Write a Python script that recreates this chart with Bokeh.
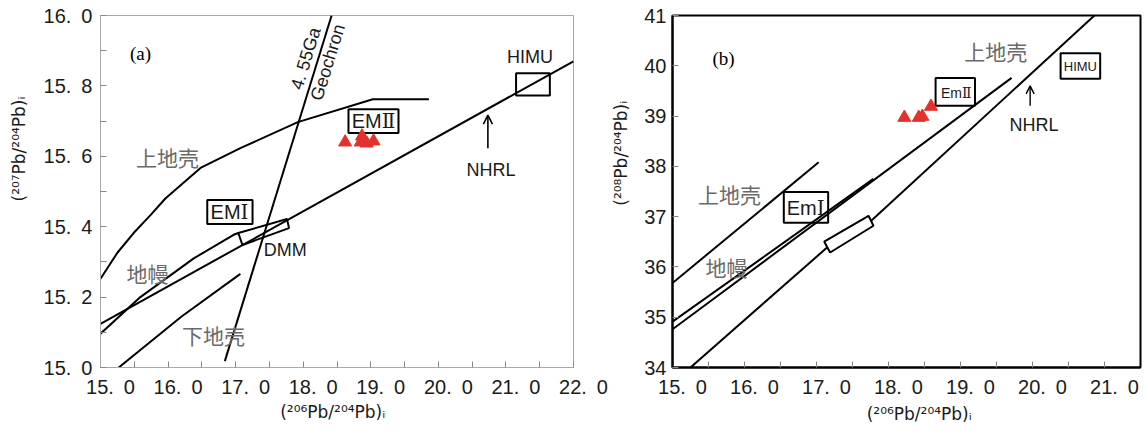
from bokeh.plotting import figure
from bokeh.layouts import row
from bokeh.models import FixedTicker, CustomJSTickFormatter, Arrow, OpenHead, Range1d
from bokeh.core.properties import value
from bokeh.embed import file_html
from bokeh.resources import INLINE

# ---------------- panel (a): 207Pb/204Pb vs 206Pb/204Pb ----------------
a_x_ticks = [15, 16, 17, 18, 19, 20, 21, 22]
a_x_minor = [15.5, 16.5, 17.5, 18.5, 19.5, 20.5, 21.5]
a_y_ticks = [15.0, 15.2, 15.4, 15.6, 15.8, 16.0]
a_y_minor = [15.1, 15.3, 15.5, 15.7, 15.9]

a_upper_crust_x = [15.0, 15.25, 15.49, 15.74, 15.96, 16.48, 17.07, 17.92, 19.03, 19.86]
a_upper_crust_y = [15.252, 15.326, 15.382, 15.433, 15.48, 15.567, 15.623, 15.697, 15.762, 15.762]
a_mantle_x = [15.0, 15.59, 16.38, 16.97, 17.04]
a_mantle_y = [15.096, 15.20, 15.31, 15.377, 15.382]
a_nhrl_x = [15.0, 22.0]
a_nhrl_y = [15.124, 15.87]
a_lower_crust_x = [15.27, 16.2, 17.07]
a_lower_crust_y = [15.0, 15.145, 15.266]
a_geochron_x = [16.84, 18.42]
a_geochron_y = [15.018, 16.0]
a_dmm_x = [17.04, 17.10, 17.79, 17.76]
a_dmm_y = [15.382, 15.348, 15.396, 15.422]
a_box_left = [16.58, 18.67, 21.15]      # EM I, EM II, HIMU
a_box_right = [17.25, 19.41, 21.65]
a_box_bottom = [15.408, 15.666, 15.773]
a_box_top = [15.476, 15.734, 15.836]
a_samples_x = [18.62, 18.87, 18.85, 18.94, 19.04]
a_samples_y = [15.640, 15.657, 15.640, 15.637, 15.643]

# ---------------- panel (b): 208Pb/204Pb vs 206Pb/204Pb ----------------
b_x_ticks = [15, 16, 17, 18, 19, 20, 21]
b_x_minor = [15.5, 16.5, 17.5, 18.5, 19.5, 20.5]
b_y_ticks = [34, 35, 36, 37, 38, 39, 40, 41]

b_upper_crust_x = [15.0, 17.03]
b_upper_crust_y = [35.68, 38.08]
b_mantle1_x = [15.0, 17.79]
b_mantle1_y = [34.91, 37.75]
b_mantle2_x = [15.0, 19.71]
b_mantle2_y = [34.76, 39.76]
b_nhrl_low_x = [15.25, 17.15]
b_nhrl_low_y = [34.0, 36.39]
b_nhrl_up_x = [17.76, 20.86]
b_nhrl_up_y = [36.92, 41.0]
b_dmm_x = [17.107, 17.189, 17.791, 17.723]
b_dmm_y = [36.504, 36.287, 36.819, 37.017]
b_box_left = [16.546, 18.654, 20.39]    # Em I, Em II, HIMU
b_box_right = [17.162, 19.201, 20.94]
b_box_bottom = [36.88, 39.205, 39.74]
b_box_top = [37.49, 39.758, 40.25]
b_samples_x = [18.22, 18.42, 18.47, 18.59]
b_samples_y = [38.97, 38.97, 38.99, 39.19]

SANS_NAME = "Liberation Sans"
LABEL_FONT = "DejaVu Sans"
SANS = value(SANS_NAME)
SERIF = value("Liberation Serif")
CJK = value("Noto Sans CJK SC")
MIXED = value("Liberation Sans, DejaVu Serif")
RED = "#e3312d"
XLABEL = "(\u00b2\u2070\u2076Pb/\u00b2\u2070\u2074Pb)\u1d62"
YLABEL_A = "(\u00b2\u2070\u2077Pb/\u00b2\u2070\u2074Pb)\u1d62"
YLABEL_B = "(\u00b2\u2070\u2078Pb/\u00b2\u2070\u2074Pb)\u1d62"

x_fmt = CustomJSTickFormatter(code="return '\u2003' + tick.toFixed(1).replace('.', '.\u2002');")
y_fmt_a = CustomJSTickFormatter(code="return tick.toFixed(1).replace('.', '.\u2002');")


def style(p, axis_color, axis_width):
    p.xgrid.visible = False
    p.ygrid.visible = False
    p.background_fill_color = "white"
    p.border_fill_color = "white"
    p.outline_line_color = axis_color
    p.outline_line_width = axis_width
    for ax in (p.xaxis[0], p.yaxis[0]):
        ax.axis_line_color = axis_color
        ax.axis_line_width = axis_width
        ax.major_tick_in = 6
        ax.major_tick_out = 0
        ax.minor_tick_in = 6
        ax.minor_tick_out = 0
        ax.major_tick_line_color = "#888888"
        ax.minor_tick_line_color = "#888888"
        ax.major_label_text_font = SANS_NAME
        ax.major_label_text_font_size = "20px"
        ax.major_label_text_color = "#1a1a1a"
        ax.axis_label_text_font = LABEL_FONT
        ax.axis_label_text_font_size = "17px"
        ax.axis_label_text_font_style = "normal"
        ax.axis_label_text_color = "#1a1a1a"


# ---------------- figure (a) ----------------
p1 = figure(width=608, height=431, x_range=Range1d(15, 22), y_range=Range1d(15, 16),
            output_backend="svg", toolbar_location=None,
            min_border_left=100, min_border_right=35, min_border_top=15, min_border_bottom=63)
style(p1, "#a8a8a8", 1)
p1.xaxis.ticker = FixedTicker(ticks=a_x_ticks, minor_ticks=a_x_minor)
p1.yaxis.ticker = FixedTicker(ticks=a_y_ticks, minor_ticks=a_y_minor)
p1.xaxis.formatter = x_fmt
p1.yaxis.formatter = y_fmt_a
p1.xaxis.axis_label = XLABEL + "\u2002"
p1.yaxis.axis_label = "\u2003" * 5 + YLABEL_A
p1.xaxis.major_label_standoff = 8
p1.yaxis.major_label_standoff = 8
p1.xaxis.axis_label_standoff = 1
p1.yaxis.axis_label_standoff = 12

lw = 2
p1.line(a_upper_crust_x, a_upper_crust_y, line_color="black", line_width=lw)
p1.line(a_mantle_x, a_mantle_y, line_color="black", line_width=lw)
p1.line(a_nhrl_x, a_nhrl_y, line_color="black", line_width=lw)
p1.line(a_lower_crust_x, a_lower_crust_y, line_color="black", line_width=lw)
p1.line(a_geochron_x, a_geochron_y, line_color="black", line_width=lw)
p1.patch(a_dmm_x, a_dmm_y, fill_color=None, line_color="black", line_width=lw)
p1.quad(left=a_box_left, right=a_box_right, bottom=a_box_bottom, top=a_box_top,
        fill_color=None, line_color="black", line_width=lw)
p1.scatter(a_samples_x, a_samples_y, marker="triangle", size=13, fill_color=RED, line_color=RED)

p1.add_layout(Arrow(end=OpenHead(size=9, line_width=1.6, line_color="black"),
                    x_start=20.733, y_start=15.623, x_end=20.733, y_end=15.717,
                    line_width=1.6, line_color="black"))

p1.text(x=[15.593], y=[15.892], text=["(a)"], text_font=SERIF, text_font_size="19px",
        text_align="center", text_baseline="middle", text_color="black")
p1.text(x=[15.993, 15.696, 16.674], y=[15.598, 15.269, 15.091], text=["上地壳", "地幔", "下地壳"],
        text_font=CJK, text_font_size="21px", text_align="center", text_baseline="middle",
        text_color="#6a6a6a")
p1.text(x=[17.415], y=[15.334], text=["DMM"], text_font=SANS, text_font_size="18px",
        text_align="left", text_baseline="middle", text_color="#1a1a1a")
p1.text(x=[21.356, 20.778], y=[15.881, 15.561], text=["HIMU", "NHRL"], text_font=SANS,
        text_font_size="18px", text_align="center", text_baseline="middle", text_color="#1a1a1a")
p1.text(x=[16.91, 19.04], y=[15.443, 15.700], text=["EM\u2160", "EM\u2161"],
        text_font=MIXED, text_font_size="20px",
        text_align="center", text_baseline="middle", text_color="#1a1a1a")
p1.text(x=[18.037, 18.363], y=[15.878, 15.867], text=["4. 55Ga", "Geochron"], text_font=SANS,
        text_font_size="18px", text_align="center", text_baseline="middle", angle=1.272,
        text_color="#1a1a1a")

# ---------------- figure (b) ----------------
p2 = figure(width=538, height=431, x_range=Range1d(15, 21.5), y_range=Range1d(34, 41),
            output_backend="svg", toolbar_location=None,
            min_border_left=57, min_border_right=6, min_border_top=12, min_border_bottom=64)
style(p2, "black", 2)
p2.xaxis.ticker = FixedTicker(ticks=b_x_ticks, minor_ticks=b_x_minor)
p2.yaxis.ticker = FixedTicker(ticks=b_y_ticks, minor_ticks=[])
p2.xaxis.formatter = x_fmt
p2.xaxis.axis_label = "\u2003\u2002" + XLABEL
p2.yaxis.axis_label = "\u2003" * 4 + "\u2002" + YLABEL_B
p2.xaxis.major_label_standoff = 8
p2.yaxis.major_label_standoff = 6
p2.xaxis.axis_label_standoff = 3
p2.yaxis.axis_label_standoff = 10

p2.line(b_upper_crust_x, b_upper_crust_y, line_color="black", line_width=lw)
p2.line(b_mantle1_x, b_mantle1_y, line_color="black", line_width=lw)
p2.line(b_mantle2_x, b_mantle2_y, line_color="black", line_width=lw)
p2.line(b_nhrl_low_x, b_nhrl_low_y, line_color="black", line_width=lw)
p2.line(b_nhrl_up_x, b_nhrl_up_y, line_color="black", line_width=lw)
p2.patch(b_dmm_x, b_dmm_y, fill_color=None, line_color="black", line_width=lw)
p2.quad(left=b_box_left, right=b_box_right, bottom=b_box_bottom, top=b_box_top,
        fill_color=None, line_color="black", line_width=lw)
p2.scatter(b_samples_x, b_samples_y, marker="triangle", size=13, fill_color=RED, line_color=RED)

p2.add_layout(Arrow(end=OpenHead(size=8, line_width=1.4, line_color="black"),
                    x_start=19.967, y_start=39.205, x_end=19.967, y_end=39.60,
                    line_width=1.4, line_color="black"))

p2.text(x=[15.71], y=[40.152], text=["(b)"], text_font=SERIF, text_font_size="19px",
        text_align="center", text_baseline="middle", text_color="black")
p2.text(x=[15.79, 15.75, 19.488], y=[37.45, 35.99, 40.29], text=["上地壳", "地幔", "上地壳"],
        text_font=CJK, text_font_size="21px", text_align="center", text_baseline="middle",
        text_color="#6a6a6a")
p2.text(x=[20.02], y=[38.83], text=["NHRL"], text_font=SANS, text_font_size="18px",
        text_align="center", text_baseline="middle", text_color="#1a1a1a")
p2.text(x=[16.85], y=[37.17], text=["Em\u2160"], text_font=MIXED,
        text_font_size="20px", text_align="center", text_baseline="middle", text_color="#1a1a1a")
p2.text(x=[18.94], y=[39.46], text=["Em\u2161"], text_font=MIXED,
        text_font_size="14px", text_align="center", text_baseline="middle", text_color="#1a1a1a")
p2.text(x=[20.665], y=[39.99], text=["HIMU"], text_font=SANS, text_font_size="13px",
        text_align="center", text_baseline="middle", text_color="#1a1a1a")

layout = row(p1, p2)
open("out.html", "w").write(file_html(layout, INLINE))
